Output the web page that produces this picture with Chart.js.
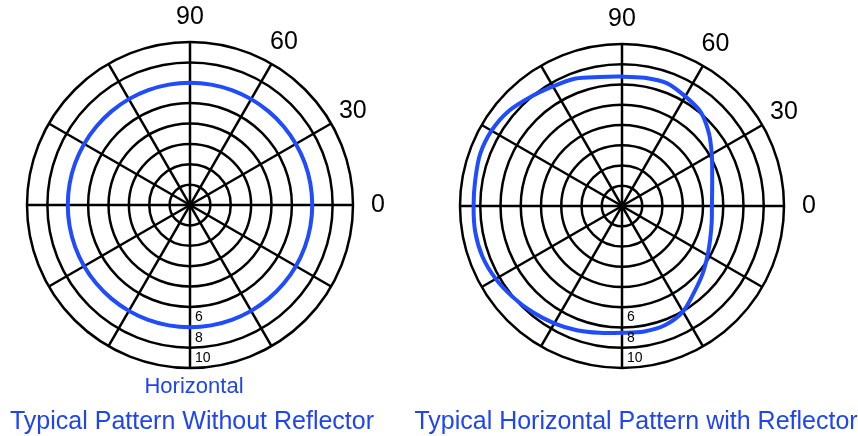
<!DOCTYPE html>
<html>
<head>
<meta charset="utf-8">
<script src="https://cdn.jsdelivr.net/npm/chart.js@4.4.0/dist/chart.umd.min.js"></script>
<style>
  body { margin: 0; background: #fff; width: 858px; height: 436px; position: relative; overflow: hidden; font-family: "Liberation Sans", Arial, sans-serif; }
  canvas { position: absolute; top: 0; }
  #left { left: 0; }
  #right { left: 429px; }
  .caption { position: absolute; color: #1f44f2; white-space: nowrap; transform: translateX(-50%); line-height: 1; }
</style>
</head>
<body>
<canvas id="left" width="429" height="436"></canvas>
<canvas id="right" width="429" height="436"></canvas>
<div class="caption" style="left:194px; top:375px; font-size:22px;">Horizontal</div>
<div class="caption" style="left:192px; top:408px; font-size:25px;">Typical Pattern Without Reflector</div>
<div class="caption" style="left:636px; top:408px; font-size:25px;">Typical Horizontal Pattern with Reflector</div>
<script>
// angles every 10 degrees, clockwise from the top (90)
const angleLabels = ['90', '', '', '60', '', '', '30', '', '', '0', '', '',
                     '', '', '', '', '', '', '', '', '', '', '', '',
                     '', '', '', '', '', '', '', '', '', '', '', ''];

// pattern without reflector (left)
const withoutReflector = [6, 6, 6, 6, 6, 6, 6, 6, 6, 6, 6, 6,
                          6, 6, 6, 6, 6, 6, 6, 6, 6, 6, 6, 6,
                          6, 6, 6, 6, 6, 6, 6, 6, 6, 6, 6, 6];

// pattern with reflector (right)
const withReflector = [6.39, 6.43, 6.46, 6.25, 6.05, 5.6, 5.12, 4.74, 4.52, 4.44, 4.5, 4.64,
                       4.88, 5.2, 5.55, 6.02, 6.25, 6.29, 6.26, 6.36, 6.53, 6.69, 6.85, 7.02,
                       7.2, 7.33, 7.36, 7.33, 7.36, 7.46, 7.44, 7.3, 7.03, 6.82, 6.7, 6.47];

const ringLabels = ['6', '8', '10'];
const ringLabelValues = [5.5, 6.55, 7.5];

const axisText = {
    id: 'axisText',
    afterDatasetsDraw(chart) {
        const scale = chart.scales.r;
        const ctx = chart.ctx;
        ctx.save();
        ctx.fillStyle = '#000';
        ctx.textAlign = 'center';
        ctx.textBaseline = 'middle';
        ctx.font = '25px "Liberation Sans", Arial, sans-serif';
        chart.data.labels.forEach((text, i) => {
            if (!text) return;
            const p = scale.getPointPosition(i, scale.drawingArea + 25);
            ctx.fillText(text, p.x, p.y);
        });
        // small ring labels along the bottom spoke
        ctx.font = '14px "Liberation Sans", Arial, sans-serif';
        ctx.textAlign = 'left';
        const bottom = chart.data.labels.length / 2;
        ringLabels.forEach((text, i) => {
            const p = scale.getPointPosition(bottom, scale.getDistanceFromCenterForValue(ringLabelValues[i]));
            ctx.fillText(text, p.x + 5, p.y);
        });
        ctx.restore();
    }
};

function makeChart(id, values, padding) {
    new Chart(document.getElementById(id), {
        type: 'radar',
        data: {
            labels: angleLabels,
            datasets: [{
                data: values,
                borderColor: '#1f4cff',
                borderWidth: 4,
                fill: false,
                pointRadius: 0,
                tension: 0.3
            }]
        },
        options: {
            responsive: false,
            animation: false,
            devicePixelRatio: 1,
            layout: { padding: padding },
            plugins: { legend: { display: false }, tooltip: { enabled: false } },
            scales: {
                r: {
                    min: 0,
                    max: 8,
                    ticks: { display: false, stepSize: 1 },
                    grid: { circular: true, color: '#000', lineWidth: 2.5 },
                    angleLines: { color: '#000', lineWidth: c => c.index % 3 === 0 ? 2.5 : 0 },
                    pointLabels: { display: false }
                }
            }
        },
        plugins: [axisText]
    });
}

makeChart('left', withoutReflector, { left: 27, right: 76, top: 42, bottom: 68 });
makeChart('right', withReflector, { left: 31, right: 74, top: 44, bottom: 68 });
</script>
</body>
</html>
